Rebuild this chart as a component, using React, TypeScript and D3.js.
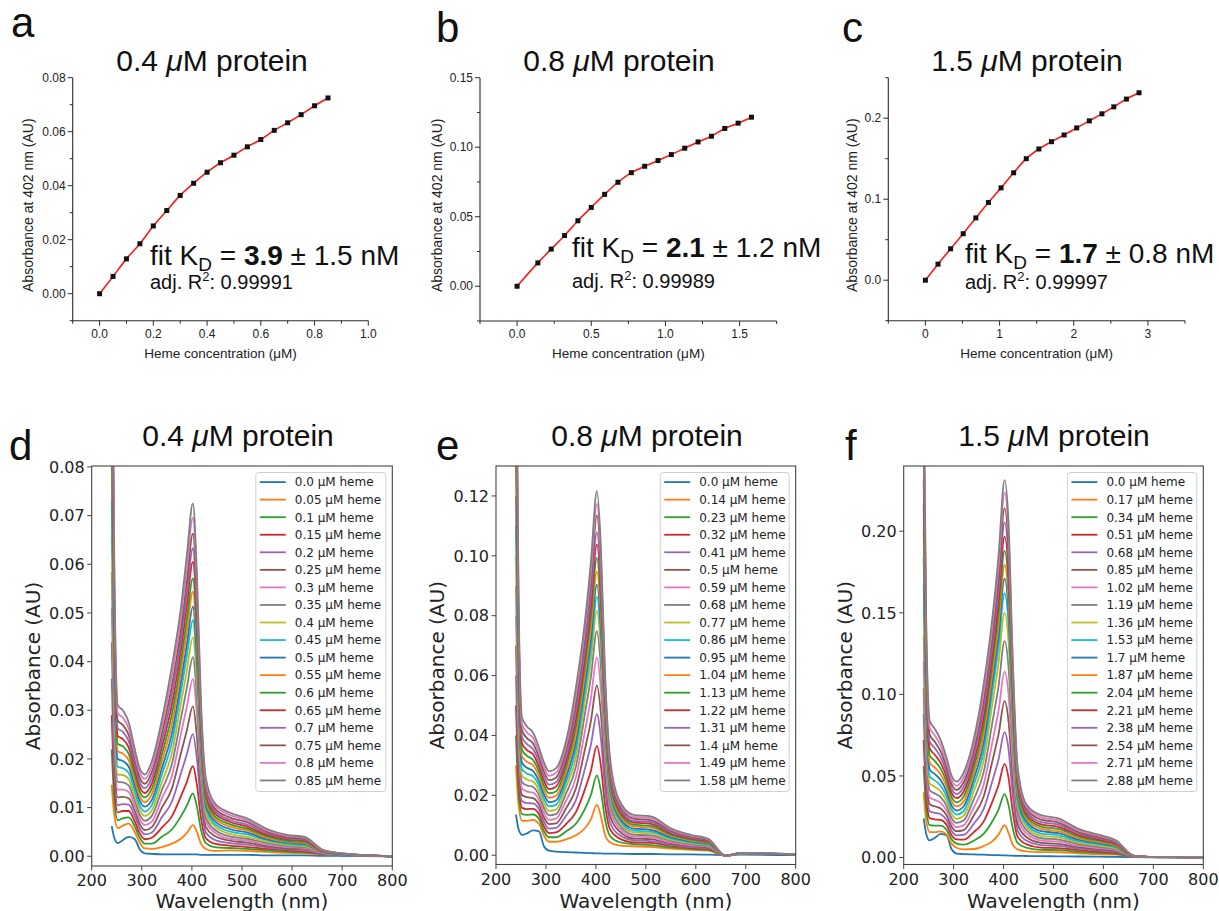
import React from 'react';
import * as d3 from 'd3';

const ARIAL = "'Liberation Sans', Arial, Helvetica, sans-serif";
const DEJAVU = "'DejaVu Sans', sans-serif";
const TAB10 = ['#1f77b4', '#ff7f0e', '#2ca02c', '#d62728', '#9467bd', '#8c564b', '#e377c2', '#7f7f7f', '#bcbd22', '#17becf'];

// ---------------- Titration data (absorbance at 402 nm) ----------------
const hemeA = [0, 0.05, 0.1, 0.15, 0.2, 0.25, 0.3, 0.35, 0.4, 0.45, 0.5, 0.55, 0.6, 0.65, 0.7, 0.75, 0.8, 0.85];
const absA = [0, 0.0064, 0.0129, 0.0185, 0.0251, 0.0308, 0.0364, 0.0409, 0.045, 0.0485, 0.0513, 0.0544, 0.0571, 0.0605, 0.0633, 0.0663, 0.0696, 0.0725];
const hemeB = [0, 0.14, 0.23, 0.32, 0.41, 0.5, 0.59, 0.68, 0.77, 0.86, 0.95, 1.04, 1.13, 1.22, 1.31, 1.4, 1.49, 1.58];
const absB = [0, 0.0168, 0.0267, 0.0365, 0.0471, 0.0567, 0.0661, 0.0748, 0.0817, 0.0863, 0.0904, 0.0947, 0.0993, 0.1038, 0.1079, 0.1135, 0.1173, 0.1216];
const hemeC = [0, 0.17, 0.34, 0.51, 0.68, 0.85, 1.02, 1.19, 1.36, 1.53, 1.7, 1.87, 2.04, 2.21, 2.38, 2.54, 2.71, 2.88];
const absC = [0, 0.0198, 0.0388, 0.0574, 0.0769, 0.0959, 0.114, 0.1326, 0.15, 0.162, 0.171, 0.1793, 0.188, 0.1967, 0.2054, 0.214, 0.2236, 0.2314];

const proteinConc = ['0.4', '0.8', '1.5'];
const fitKD = ['3.9', '2.1', '1.7'];
const fitErr = ['1.5', '1.2', '0.8'];
const adjR2 = ['0.99991', '0.99989', '0.99997'];

// tick values
const aXTicks = [0, 0.2, 0.4, 0.6, 0.8, 1.0];
const aXMinor = [-0.1, 0.1, 0.3, 0.5, 0.7, 0.9];
const aYTicks = [0, 0.02, 0.04, 0.06, 0.08];
const aYMinor = [-0.01, 0.01, 0.03, 0.05, 0.07];
const bXTicks = [0, 0.5, 1.0, 1.5];
const bXMinor = [-0.25, 0.25, 0.75, 1.25, 1.75];
const bYTicks = [0, 0.05, 0.1, 0.15];
const bYMinor = [-0.025, 0.025, 0.075, 0.125];
const cXTicks = [0, 1, 2, 3];
const cXMinor = [-0.5, 0.5, 1.5, 2.5, 3.5];
const cYTicks = [0, 0.1, 0.2];
const cYMinor = [-0.05, 0.05, 0.15, 0.25];

const wlTicks = [200, 300, 400, 500, 600, 700, 800];
const dYTicks = [0, 0.01, 0.02, 0.03, 0.04, 0.05, 0.06, 0.07, 0.08];
const eYTicks = [0, 0.02, 0.04, 0.06, 0.08, 0.1, 0.12];
const fYTicks = [0, 0.05, 0.1, 0.15, 0.2];

// ---------------- UV-vis spectra (milli-absorbance units) ----------------
const wavelengths = [240, 245, 252, 262, 274, 286, 296, 306, 320, 340, 360, 378, 390, 402, 410, 418, 428, 445, 475, 510, 550, 590, 625, 660, 690, 800];

const spectraD_mAU = [
  [6.2, 3.8, 2.7, 3.3, 4.0, 3.5, 1.4, 0.6, 0.5, 0.4, 0.4, 0.4, 0.4, 0.4, 0.4, 0.3, 0.3, 0.3, 0.3, 0.3, 0.2, 0.2, 0.2, 0.1, 0.1, 0],
  [14.7, 8.5, 5.8, 6.3, 6.7, 5.0, 2.8, 1.6, 1.5, 1.9, 2.6, 3.6, 4.8, 6.4, 5.0, 2.6, 1.5, 1.1, 1.2, 1.1, 0.9, 0.7, 0.6, 0.4, 0.3, 0],
  [22, 11.8, 7.4, 7.8, 8.0, 6.1, 3.8, 2.6, 2.6, 4.0, 5.5, 8.2, 10.4, 12.9, 10.2, 5.5, 2.7, 1.9, 1.7, 1.5, 1.2, 0.9, 0.8, 0.5, 0.3, 0],
  [29, 15.0, 9.0, 9.3, 9.3, 7.1, 4.7, 3.5, 3.8, 5.9, 8.2, 12.3, 15.3, 18.5, 14.7, 8.0, 3.7, 2.6, 2.2, 1.9, 1.5, 1.2, 1.0, 0.5, 0.4, 0],
  [36.5, 18.3, 10.5, 10.7, 10.6, 8.2, 5.7, 4.5, 4.9, 8.0, 11.2, 17.0, 21.0, 25.1, 20.0, 10.9, 4.9, 3.4, 2.7, 2.4, 1.8, 1.4, 1.2, 0.6, 0.4, 0],
  [44, 21.7, 12.1, 12.2, 11.9, 9.3, 6.6, 5.4, 6.0, 10.0, 13.9, 21.1, 25.9, 30.8, 24.6, 13.4, 6.0, 4.2, 3.2, 2.8, 2.1, 1.6, 1.5, 0.7, 0.4, 0],
  [51, 24.9, 13.7, 13.7, 13.2, 10.3, 7.6, 6.4, 7.1, 11.9, 16.5, 25.1, 30.8, 36.4, 29.1, 16.0, 7.1, 4.9, 3.6, 3.2, 2.4, 1.9, 1.7, 0.7, 0.4, 0],
  [58.5, 28.3, 15.3, 15.2, 14.5, 11.4, 8.5, 7.3, 8.3, 13.6, 18.9, 28.3, 34.7, 40.9, 32.7, 17.9, 8.0, 5.5, 4.1, 3.6, 2.7, 2.1, 1.9, 0.8, 0.5, 0],
  [66, 31.6, 16.8, 16.7, 15.8, 12.4, 9.5, 8.3, 9.4, 15.2, 21.2, 31.3, 38.2, 45.0, 36.0, 19.8, 8.9, 6.2, 4.6, 4.0, 3.0, 2.3, 2.1, 0.8, 0.5, 0],
  [73, 34.8, 18.4, 18.1, 17.1, 13.5, 10.4, 9.2, 10.5, 16.8, 23.3, 33.8, 41.2, 48.5, 38.8, 21.3, 9.8, 6.7, 5.1, 4.5, 3.3, 2.5, 2.3, 0.9, 0.5, 0],
  [80.5, 38.2, 20.0, 19.6, 18.4, 14.6, 11.4, 10.2, 11.6, 18.1, 25.2, 35.8, 43.6, 51.3, 41.0, 22.6, 10.5, 7.3, 5.6, 4.9, 3.5, 2.8, 2.5, 0.9, 0.5, 0],
  [88, 41.5, 21.6, 21.1, 19.7, 15.6, 12.3, 11.1, 12.8, 19.5, 27.2, 38.0, 46.3, 54.4, 43.5, 23.9, 11.3, 7.8, 6.1, 5.3, 3.8, 3.0, 2.7, 1.0, 0.6, 0],
  [95, 44.7, 23.1, 22.6, 21.0, 16.7, 13.3, 12.1, 13.9, 20.9, 29.1, 40.0, 48.7, 57.1, 45.7, 25.1, 12.0, 8.3, 6.6, 5.7, 4.1, 3.2, 2.9, 1.1, 0.6, 0],
  [102, 47.9, 24.7, 24.1, 22.3, 17.8, 14.2, 13.0, 15.0, 22.4, 31.1, 42.4, 51.6, 60.5, 48.4, 26.6, 12.9, 8.9, 7.1, 6.1, 4.4, 3.5, 3.2, 1.1, 0.6, 0],
  [110, 51.4, 26.3, 25.6, 23.6, 18.8, 15.2, 14.0, 16.1, 23.7, 33.1, 44.4, 54.1, 63.3, 50.6, 27.9, 13.6, 9.4, 7.5, 6.5, 4.7, 3.7, 3.4, 1.2, 0.6, 0],
  [117, 54.6, 27.9, 27.0, 24.9, 19.9, 16.1, 14.9, 17.3, 25.2, 35.0, 46.5, 56.6, 66.3, 53.0, 29.2, 14.4, 9.9, 8.0, 7.0, 5.0, 3.9, 3.6, 1.2, 0.7, 0],
  [125, 58.1, 29.4, 28.5, 26.2, 20.9, 17.1, 15.9, 18.4, 26.6, 37.1, 48.9, 59.5, 69.6, 55.7, 30.7, 15.2, 10.5, 8.5, 7.4, 5.3, 4.2, 3.8, 1.3, 0.7, 0],
  [132, 61.3, 31.0, 30.0, 27.5, 22.0, 18.0, 16.8, 19.5, 28.0, 39.0, 51.0, 62.0, 72.5, 58.0, 32.0, 16.0, 11.0, 9.0, 7.8, 5.6, 4.4, 4.0, 1.4, 0.7, 0],
];

const spectraE_mAU = [
  [13.6, 8.8, 6.8, 7.3, 8.3, 8.0, 3.0, 1.5, 1.2, 1.0, 0.9, 0.8, 0.7, 0.6, 0.6, 0.5, 0.5, 0.5, 0.4, 0.4, 0.3, 0.3, 0.2, 0, 0.2, 0],
  [30, 17.1, 11.5, 11.5, 11.8, 10.5, 6.5, 4.5, 4.5, 5.3, 6.7, 9.0, 12.0, 16.8, 13.0, 7.0, 4.3, 3.3, 3.0, 2.8, 2.2, 1.8, 1.5, -0.2, 0.5, 0.3],
  [40, 21.6, 13.7, 13.5, 13.6, 12.1, 8.0, 6.0, 6.0, 7.9, 10.5, 15.5, 20.1, 26.7, 21.5, 12.2, 6.5, 4.5, 3.7, 3.4, 2.6, 2.1, 1.8, -0.2, 0.5, 0.3],
  [50, 26.1, 15.8, 15.4, 15.5, 13.7, 9.6, 7.4, 7.6, 10.4, 14.4, 22.0, 28.2, 36.5, 29.9, 17.3, 8.8, 5.8, 4.3, 4.1, 3.1, 2.4, 2.0, -0.2, 0.5, 0.3],
  [60, 30.6, 18.0, 17.4, 17.3, 15.3, 11.1, 8.9, 9.1, 13.1, 18.4, 28.9, 36.9, 47.1, 39.0, 22.9, 11.1, 7.0, 5.0, 4.7, 3.5, 2.7, 2.3, -0.2, 0.6, 0.3],
  [70, 35.1, 20.1, 19.4, 19.1, 16.9, 12.6, 10.4, 10.6, 15.6, 22.3, 35.3, 44.8, 56.7, 47.3, 28.0, 13.4, 8.3, 5.6, 5.4, 3.9, 3.1, 2.5, -0.2, 0.6, 0.3],
  [80, 39.6, 22.3, 21.3, 20.9, 18.5, 14.2, 11.8, 12.2, 18.1, 26.0, 41.4, 52.4, 66.1, 55.3, 32.9, 15.5, 9.4, 6.3, 6.0, 4.3, 3.4, 2.8, -0.2, 0.6, 0.3],
  [90, 44.1, 24.4, 23.3, 22.8, 20.1, 15.7, 13.3, 13.7, 20.5, 29.6, 47.2, 59.6, 74.8, 62.8, 37.4, 17.6, 10.6, 6.9, 6.6, 4.8, 3.7, 3.0, -0.2, 0.6, 0.3],
  [100, 48.6, 26.6, 25.3, 24.6, 21.7, 17.2, 14.8, 15.2, 22.6, 32.7, 51.7, 65.2, 81.7, 68.7, 41.0, 19.5, 11.6, 7.6, 7.3, 5.2, 4.0, 3.3, -0.2, 0.6, 0.3],
  [110, 53.1, 28.7, 27.3, 26.4, 23.3, 18.8, 16.3, 16.8, 24.3, 35.4, 54.7, 69.0, 86.3, 72.7, 43.5, 21.0, 12.4, 8.2, 7.9, 5.6, 4.3, 3.5, -0.2, 0.6, 0.3],
  [120, 57.6, 30.9, 29.2, 28.2, 24.8, 20.3, 17.7, 18.3, 26.0, 37.9, 57.4, 72.4, 90.4, 76.2, 45.6, 22.4, 13.2, 8.9, 8.5, 6.0, 4.6, 3.8, -0.2, 0.7, 0.3],
  [130, 62.2, 33.1, 31.2, 30.1, 26.4, 21.8, 19.2, 19.8, 27.7, 40.4, 60.3, 75.9, 94.7, 79.9, 47.9, 23.9, 14.0, 9.6, 9.2, 6.5, 4.9, 4.0, -0.2, 0.7, 0.3],
  [140, 66.6, 35.2, 33.2, 31.9, 28.0, 23.3, 20.7, 21.3, 29.4, 43.0, 63.3, 79.7, 99.3, 83.8, 50.3, 25.5, 14.9, 10.2, 9.8, 6.9, 5.2, 4.3, -0.2, 0.7, 0.3],
  [150, 71.2, 37.4, 35.1, 33.7, 29.6, 24.9, 22.1, 22.9, 31.1, 45.6, 66.3, 83.4, 103.8, 87.7, 52.7, 27.0, 15.7, 10.9, 10.5, 7.3, 5.6, 4.5, -0.2, 0.7, 0.3],
  [160, 75.7, 39.5, 37.1, 35.5, 31.2, 26.4, 23.6, 24.4, 32.8, 48.2, 69.0, 86.7, 107.9, 91.2, 54.8, 28.4, 16.5, 11.5, 11.1, 7.7, 5.9, 4.8, -0.2, 0.7, 0.3],
  [170, 80.2, 41.7, 39.1, 37.4, 32.8, 27.9, 25.1, 25.9, 34.7, 51.0, 72.7, 91.4, 113.5, 96.1, 57.8, 30.1, 17.4, 12.2, 11.7, 8.2, 6.2, 5.0, -0.2, 0.8, 0.3],
  [180, 84.7, 43.8, 41.0, 39.2, 34.4, 29.5, 26.5, 27.5, 36.3, 53.4, 75.2, 94.5, 117.3, 99.3, 59.7, 31.5, 18.2, 12.8, 12.4, 8.6, 6.5, 5.3, -0.2, 0.8, 0.3],
  [190, 89.2, 46.0, 43.0, 41.0, 36.0, 31.0, 28.0, 29.0, 38.0, 56.0, 78.0, 98.0, 121.6, 103.0, 62.0, 33.0, 19.0, 13.5, 13.0, 9.0, 6.8, 5.5, -0.2, 0.8, 0.3],
];

const spectraF_mAU = [
  [24, 14.6, 10.5, 12.0, 14.5, 13.5, 5.0, 2.4, 2.1, 1.9, 1.7, 1.5, 1.4, 1.3, 1.2, 1.1, 1.0, 0.9, 0.8, 0.7, 0.6, 0.5, 0.4, 0.2, 0.1, 0],
  [40, 22.9, 15.5, 15.5, 16, 14, 8.5, 6.0, 5.0, 5.2, 7.0, 10, 14, 19.8, 15, 8, 5.0, 3.8, 3.3, 3.2, 2.6, 2.0, 1.8, 0.5, 0.3, 0.1],
  [56, 30.7, 19.8, 19.5, 19.5, 16.9, 11.1, 8.5, 7.9, 10.3, 14.5, 22.4, 29.4, 38.8, 32.1, 18.5, 8.9, 6.0, 4.7, 4.5, 3.5, 2.8, 2.3, 0.5, 0.3, 0.1],
  [72, 38.5, 24.1, 23.4, 23, 19.9, 13.7, 11.1, 10.9, 15.4, 22.0, 34.6, 44.4, 57.4, 48.8, 28.8, 12.8, 8.2, 6.1, 5.8, 4.5, 3.5, 2.9, 0.6, 0.3, 0.1],
  [88, 46.2, 28.3, 27.4, 26.5, 22.8, 16.3, 13.6, 13.8, 20.5, 29.7, 47.3, 60.2, 76.9, 66.3, 39.6, 16.7, 10.5, 7.6, 7.1, 5.4, 4.3, 3.4, 0.6, 0.3, 0.1],
  [104, 54.0, 32.6, 31.4, 30, 25.8, 18.9, 16.1, 16.8, 25.6, 37.2, 59.7, 75.6, 95.9, 83.4, 50.1, 20.6, 12.7, 9.0, 8.4, 6.3, 5.0, 4.0, 0.7, 0.3, 0.1],
  [120, 61.8, 36.9, 35.3, 33.5, 28.7, 21.5, 18.7, 19.7, 30.5, 44.5, 71.4, 90.1, 114, 99.6, 60.1, 24.3, 14.9, 10.4, 9.7, 7.3, 5.8, 4.5, 0.7, 0.3, 0.1],
  [136, 69.6, 41.2, 39.3, 37, 31.6, 24.1, 21.2, 22.6, 35.5, 52.0, 83.6, 105.1, 132.6, 116.3, 70.4, 28.2, 17.1, 11.8, 11.0, 8.2, 6.5, 5.1, 0.8, 0.3, 0.1],
  [152, 77.5, 45.5, 43.3, 40.5, 34.6, 26.7, 23.7, 25.6, 40.3, 59.1, 94.9, 119.2, 150, 131.9, 80.0, 31.8, 19.2, 13.2, 12.3, 9.1, 7.3, 5.6, 0.8, 0.3, 0.1],
  [168, 85.2, 49.7, 47.3, 44, 37.5, 29.3, 26.3, 28.5, 44.3, 65.0, 102.7, 128.9, 162, 142.7, 86.6, 34.9, 20.9, 14.7, 13.6, 10.0, 8.0, 6.2, 0.9, 0.4, 0.1],
  [184, 93.0, 54.0, 51.2, 47.5, 40.4, 31.8, 28.8, 31.4, 47.9, 70.3, 108.7, 136.3, 171, 150.9, 91.7, 37.6, 22.5, 16.1, 14.9, 11.0, 8.8, 6.7, 0.9, 0.4, 0.1],
  [200, 100.8, 58.3, 55.2, 51, 43.4, 34.4, 31.3, 34.4, 51.3, 75.3, 114.1, 142.9, 179.3, 158.3, 96.2, 40.2, 24.0, 17.5, 16.2, 11.9, 9.5, 7.2, 0.9, 0.4, 0.1],
  [216, 108.6, 62.6, 59.2, 54.5, 46.3, 37.0, 33.8, 37.3, 54.7, 80.4, 119.7, 150.0, 188, 166.1, 101.0, 42.8, 25.4, 18.9, 17.5, 12.8, 10.3, 7.8, 1.0, 0.4, 0.1],
  [232, 116.4, 66.9, 63.1, 58, 49.3, 39.6, 36.4, 40.3, 58.2, 85.5, 125.4, 157.0, 196.7, 173.8, 105.8, 45.4, 27.0, 20.3, 18.8, 13.8, 11.0, 8.3, 1.0, 0.4, 0.1],
  [248, 124.2, 71.2, 67.1, 61.5, 52.2, 42.2, 38.9, 43.2, 61.6, 90.7, 131.0, 164.0, 205.4, 181.6, 110.6, 48.1, 28.5, 21.7, 20.1, 14.7, 11.8, 8.9, 1.1, 0.4, 0.1],
  [264, 132.0, 75.4, 71.1, 65, 55.1, 44.8, 41.4, 46.1, 65.1, 95.8, 136.7, 171.0, 214, 189.4, 115.4, 50.7, 30.0, 23.2, 21.4, 15.6, 12.5, 9.4, 1.1, 0.4, 0.1],
  [280, 139.8, 79.7, 75.0, 68.5, 58.1, 47.4, 44.0, 49.1, 68.7, 101.1, 142.9, 178.7, 223.6, 198.0, 120.7, 53.4, 31.5, 24.6, 22.7, 16.6, 13.3, 10.0, 1.2, 0.4, 0.1],
  [296, 147.6, 84.0, 79.0, 72, 61.0, 50.0, 46.5, 52.0, 72.0, 106.0, 148.0, 185.0, 231.4, 205.0, 125.0, 56.0, 33.0, 26.0, 24.0, 17.5, 14.0, 10.5, 1.2, 0.4, 0.1],
];

// ---------------- Layout ----------------
const topPanels = [
  {
    letter: 'a', letterX: 11, letterY: 37, titleX: 212,
    left: 72.7, right: 368.3, top: 77.7, bottom: 320.7,
    xDomain: [-0.1, 1.0], yDomain: [-0.01, 0.08],
    xs: hemeA, ys: absA, xTicks: aXTicks, xMinor: aXMinor, yTicks: aYTicks, yMinor: aYMinor,
    xFmt: '.1f', yFmt: '.2f', fitX: 150, fitY: 265, adjY: 289, yLabelX: 28,
  },
  {
    letter: 'b', letterX: 436, letterY: 42, titleX: 619,
    left: 480, right: 776.7, top: 77.7, bottom: 321,
    xDomain: [-0.25, 1.75], yDomain: [-0.025, 0.15],
    xs: hemeB, ys: absB, xTicks: bXTicks, xMinor: bXMinor, yTicks: bYTicks, yMinor: bYMinor,
    xFmt: '.1f', yFmt: '.2f', fitX: 572, fitY: 257, adjY: 288, yLabelX: 437,
  },
  {
    letter: 'c', letterX: 842, letterY: 42, titleX: 1027,
    left: 888.3, right: 1185, top: 77.7, bottom: 320.7,
    xDomain: [-0.5, 3.5], yDomain: [-0.05, 0.25],
    xs: hemeC, ys: absC, xTicks: cXTicks, xMinor: cXMinor, yTicks: cYTicks, yMinor: cYMinor,
    xFmt: 'd', yFmt: '.1f', fitX: 965, fitY: 263, adjY: 289, yLabelX: 852,
  },
];

const bottomPanels = [
  {
    letter: 'd', letterX: 9, titleX: 238, left: 91.7, right: 392.3, top: 466, bottom: 866,
    yDomain: [-0.002, 0.0802], yTicks: dYTicks, spectra: spectraD_mAU, heme: hemeA, yLabelX: 33, legW: 130,
  },
  {
    letter: 'e', letterX: 436, titleX: 647, left: 496, right: 795.7, top: 466, bottom: 864.5,
    yDomain: [-0.0031, 0.13], yTicks: eYTicks, spectra: spectraE_mAU, heme: hemeB, yLabelX: 437, legW: 129,
  },
  {
    letter: 'f', letterX: 845, titleX: 1054, left: 903.7, right: 1203.3, top: 466, bottom: 864.5,
    yDomain: [-0.0043, 0.24], yTicks: fYTicks, spectra: spectraF_mAU, heme: hemeC, yLabelX: 845, legW: 129.4,
  },
];

function Title({ x, y, conc }: { x: number; y: number; conc: string }) {
  return (
    <text x={x} y={y} textAnchor="middle" fontFamily={ARIAL} fontSize={30} fill="#111">
      {conc} <tspan fontStyle="italic">μ</tspan>M protein
    </text>
  );
}

function TopPanel({ p, idx }: { p: any; idx: number }) {
  const x = d3.scaleLinear().domain(p.xDomain).range([p.left, p.right]);
  const y = d3.scaleLinear().domain(p.yDomain).range([p.bottom, p.top]);
  const pts: [number, number][] = p.xs.map((v: number, i: number) => [v, p.ys[i]]);
  const line = d3.line<[number, number]>().x((d) => x(d[0])).y((d) => y(d[1])).curve(d3.curveMonotoneX);
  const fx = d3.format(p.xFmt);
  const fy = d3.format(p.yFmt);
  const ax = '#2b2b2b';
  const midY = (p.top + p.bottom) / 2 + 6;
  return (
    <g>
      <text x={p.letterX} y={p.letterY} fontFamily={ARIAL} fontSize={42} fill="#111">{p.letter}</text>
      <Title x={p.titleX} y={71} conc={proteinConc[idx]} />
      <line x1={p.left} x2={p.left} y1={p.top} y2={p.bottom} stroke={ax} strokeWidth={1.1} />
      <line x1={p.left} x2={p.right} y1={p.bottom} y2={p.bottom} stroke={ax} strokeWidth={1.1} />
      {p.yTicks.map((t: number) => (
        <g key={'yt' + t}>
          <line x1={p.left - 5} x2={p.left} y1={y(t)} y2={y(t)} stroke={ax} strokeWidth={1} />
          <text x={p.left - 7} y={y(t)} dy="0.35em" textAnchor="end" fontFamily={ARIAL} fontSize={12} fill="#222">{fy(t)}</text>
        </g>
      ))}
      {p.yMinor.map((t: number) => (
        <line key={'ym' + t} x1={p.left - 3} x2={p.left} y1={y(t)} y2={y(t)} stroke={ax} strokeWidth={1} />
      ))}
      {p.xTicks.map((t: number) => (
        <g key={'xt' + t}>
          <line x1={x(t)} x2={x(t)} y1={p.bottom} y2={p.bottom + 5} stroke={ax} strokeWidth={1} />
          <text x={x(t)} y={p.bottom + 17} textAnchor="middle" fontFamily={ARIAL} fontSize={12} fill="#222">{fx(t)}</text>
        </g>
      ))}
      {p.xMinor.map((t: number) => (
        <line key={'xm' + t} x1={x(t)} x2={x(t)} y1={p.bottom} y2={p.bottom + 3} stroke={ax} strokeWidth={1} />
      ))}
      <text x={(p.left + p.right) / 2} y={p.bottom + 37} textAnchor="middle" fontFamily={ARIAL} fontSize={13.5} fill="#222">
        Heme concentration (μM)
      </text>
      <text transform={`translate(${p.yLabelX},${midY}) rotate(-90)`} textAnchor="middle" dy="0.35em" fontFamily={ARIAL} fontSize={14} fill="#222">
        Absorbance at 402 nm (AU)
      </text>
      <path d={line(pts) || ''} fill="none" stroke="#ff1a1a" strokeWidth={1.6} />
      {pts.map((d, i) => (
        <rect key={'pt' + i} x={x(d[0]) - 2.5} y={y(d[1]) - 2.5} width={5} height={5} fill="#111" />
      ))}
      <text x={p.fitX} y={p.fitY} fontFamily={ARIAL} fontSize={28} fill="#111">
        fit K<tspan dy={6} fontSize={19}>D</tspan><tspan dy={-6}> = </tspan><tspan fontWeight="bold">{fitKD[idx]}</tspan> ± {fitErr[idx]} nM
      </text>
      <text x={p.fitX} y={p.adjY} fontFamily={ARIAL} fontSize={20} fill="#111">
        adj. R<tspan dy={-8} fontSize={13}>2</tspan><tspan dy={8}>: {adjR2[idx]}</tspan>
      </text>
    </g>
  );
}

function SpecPanel({ p, idx }: { p: any; idx: number }) {
  const x = d3.scaleLinear().domain([200, 800]).range([p.left, p.right]);
  const y = d3.scaleLinear().domain(p.yDomain).range([p.bottom, p.top]);
  const line = d3.line<[number, number]>().x((d) => x(d[0])).y((d) => y(d[1])).curve(d3.curveMonotoneX);
  const fy = d3.format('.2f');
  const ax = '#444';
  const clipId = 'clip-' + p.letter;
  const legX = p.right - 6.5 - p.legW;
  const legY = p.top + 6.5;
  const rowH = 17.55;
  const legH = 319;
  const labels = p.heme.map((v: number) => `${v === 0 ? '0.0' : String(v)} μM heme`);
  return (
    <g>
      <defs>
        <clipPath id={clipId}>
          <rect x={p.left} y={p.top} width={p.right - p.left} height={p.bottom - p.top} />
        </clipPath>
      </defs>
      <text x={p.letterX} y={460} fontFamily={ARIAL} fontSize={42} fill="#111">{p.letter}</text>
      <Title x={p.titleX} y={446} conc={proteinConc[idx]} />
      <g clipPath={`url(#${clipId})`}>
        {p.spectra.map((row: number[], i: number) => {
          const pts: [number, number][] = row.map((v, j) => [wavelengths[j], v / 1000]);
          return <path key={'s' + i} d={line(pts) || ''} fill="none" stroke={TAB10[i % 10]} strokeWidth={1.8} strokeLinejoin="round" />;
        })}
      </g>
      <rect x={p.left} y={p.top} width={p.right - p.left} height={p.bottom - p.top} fill="none" stroke={ax} strokeWidth={1.1} />
      {p.yTicks.map((t: number) => (
        <g key={'yt' + t}>
          <line x1={p.left - 4.5} x2={p.left} y1={y(t)} y2={y(t)} stroke={ax} strokeWidth={1} />
          <text x={p.left - 7} y={y(t)} dy="0.36em" textAnchor="end" fontFamily={DEJAVU} fontSize={16} fill="#222">{fy(t)}</text>
        </g>
      ))}
      {wlTicks.map((t: number) => (
        <g key={'xt' + t}>
          <line x1={x(t)} x2={x(t)} y1={p.bottom} y2={p.bottom + 4.5} stroke={ax} strokeWidth={1} />
          <text x={x(t)} y={p.bottom + 20} textAnchor="middle" fontFamily={DEJAVU} fontSize={16} fill="#222">{t}</text>
        </g>
      ))}
      <text x={(p.left + p.right) / 2} y={908} textAnchor="middle" fontFamily={DEJAVU} fontSize={20} fill="#222">Wavelength (nm)</text>
      <text transform={`translate(${p.yLabelX},${(p.top + p.bottom) / 2}) rotate(-90)`} textAnchor="middle" dy="0.35em" fontFamily={DEJAVU} fontSize={20} fill="#222">
        Absorbance (AU)
      </text>
      <rect x={legX} y={legY} width={p.legW} height={legH} rx={3} fill="#fff" fillOpacity={0.85} stroke="#d0d0d0" strokeWidth={1} />
      {labels.map((lab: string, i: number) => {
        const ry = legY + 9.6 + i * rowH;
        return (
          <g key={'lg' + i}>
            <line x1={legX + 4} x2={legX + 30} y1={ry} y2={ry} stroke={TAB10[i % 10]} strokeWidth={1.8} />
            <text x={legX + 39} y={ry} dy="0.36em" fontFamily={DEJAVU} fontSize={12} fill="#222">{lab}</text>
          </g>
        );
      })}
    </g>
  );
}

export default function App() {
  return (
    <svg
      width={1219}
      height={911}
      viewBox="0 0 1219 911"
      style={{ position: 'absolute', left: 0, top: 0, display: 'block', background: '#fff' }}
    >
      <rect x={0} y={0} width={1219} height={911} fill="#fff" />
      {topPanels.map((p, i) => <TopPanel key={p.letter} p={p} idx={i} />)}
      {bottomPanels.map((p, i) => <SpecPanel key={p.letter} p={p} idx={i} />)}
    </svg>
  );
}
